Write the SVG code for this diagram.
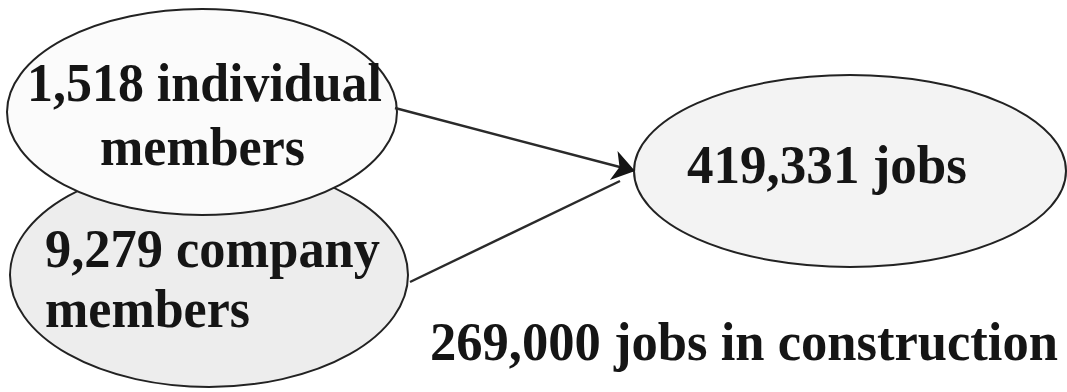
<svg xmlns="http://www.w3.org/2000/svg" width="1067" height="392" viewBox="0 0 1067 392">
  <style>
    .node { stroke: #222; stroke-width: 2; }
    .lbl { font-family: "Liberation Serif", "Times New Roman", serif; font-weight: bold; font-size: 54px; fill: #151515; }
    .edge { stroke: #2a2a2a; stroke-width: 2.4; fill: none; }
  </style>
  <defs>
    <marker id="arrow" markerWidth="26" markerHeight="34" refX="22" refY="17" orient="auto" markerUnits="userSpaceOnUse">
      <path d="M0,2 L22,17 L0,32 L6,17 Z" fill="#151515"/>
    </marker>
  </defs>
  <rect width="1067" height="392" fill="#ffffff"/>
  <g id="n-company">
    <ellipse class="node" cx="209" cy="275" rx="199" ry="112" fill="#ededed"/>
    <text class="lbl" x="45" y="267" textLength="335" lengthAdjust="spacingAndGlyphs">9,279 company</text>
    <text class="lbl" x="45" y="327" textLength="205" lengthAdjust="spacingAndGlyphs">members</text>
  </g>
  <g id="n-individual">
    <ellipse class="node" cx="202" cy="112" rx="195" ry="103" fill="#fbfbfb"/>
    <text class="lbl" x="27" y="101" textLength="355" lengthAdjust="spacingAndGlyphs">1,518 individual</text>
    <text class="lbl" x="100" y="165" textLength="205" lengthAdjust="spacingAndGlyphs">members</text>
  </g>
  <g id="n-jobs">
    <ellipse class="node" cx="850" cy="171" rx="216" ry="96" fill="#f3f3f3"/>
    <text class="lbl" x="687" y="183" textLength="280" lengthAdjust="spacingAndGlyphs">419,331 jobs</text>
  </g>
  <g id="connectors">
    <line class="edge" x1="395" y1="108" x2="635" y2="171" marker-end="url(#arrow)"/>
    <line class="edge" x1="410" y1="282" x2="620" y2="181"/>
  </g>
  <g id="caption">
    <text class="lbl" x="430" y="360" textLength="628" lengthAdjust="spacingAndGlyphs">269,000 jobs in construction</text>
  </g>
</svg>
